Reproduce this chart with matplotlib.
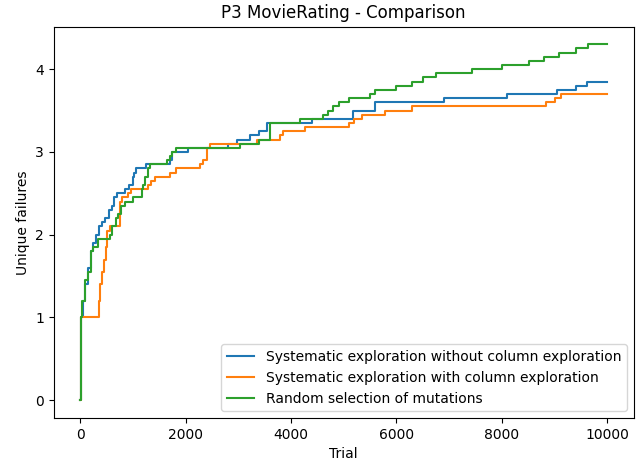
import numpy as np
import matplotlib.pyplot as plt

# step points (trial where value changes, mean unique failures)
sys_trials = [0, 20, 50, 100, 150, 200, 250, 300, 360, 420, 480, 540, 600, 650, 700,
              850, 930, 1000, 1030, 1060, 1250, 1700, 1750, 1800, 2050, 2800, 2970,
              3220, 3400, 3540, 4400, 5170, 5590, 6910, 8090, 9050, 9410, 9620, 10000]
sys_vals = [0, 1.0, 1.2, 1.4, 1.6, 1.8, 1.9, 2.0, 2.1, 2.15, 2.2, 2.3, 2.35, 2.45, 2.5,
            2.55, 2.6, 2.7, 2.75, 2.8, 2.85, 2.9, 3.0, 3.0, 3.05, 3.1, 3.15,
            3.2, 3.25, 3.35, 3.4, 3.5, 3.6, 3.65, 3.7, 3.75, 3.8, 3.85, 3.85]

col_trials = [0, 10, 360, 380, 410, 450, 490, 510, 570, 760, 800, 900, 960, 1290, 1350,
              1420, 1530, 1700, 1820, 2270, 2330, 2400, 2460, 3350, 3790, 3850, 4260,
              5110, 5200, 5340, 5780, 6300, 8840, 9000, 9130, 10000]
col_vals = [0, 1.0, 1.2, 1.4, 1.55, 1.7, 1.85, 2.05, 2.1, 2.4, 2.45, 2.5, 2.55, 2.6, 2.65,
            2.7, 2.7, 2.75, 2.8, 2.85, 2.9, 3.05, 3.1, 3.15, 3.2, 3.25, 3.3,
            3.35, 3.4, 3.45, 3.5, 3.55, 3.6, 3.65, 3.7, 3.7]

rnd_trials = [0, 20, 40, 100, 150, 200, 250, 330, 570, 600, 630, 680, 720, 780, 850, 1000,
              1170, 1200, 1240, 1290, 1330, 1650, 1700, 1740, 1820, 3030, 3400, 3600,
              4170, 4600, 4700, 4800, 4920, 5100, 5490, 5600, 6000, 6300, 6500, 6760,
              7440, 8010, 8520, 8800, 9090, 9410, 9640, 10000]
rnd_vals = [0, 1.0, 1.2, 1.45, 1.55, 1.8, 1.85, 1.95, 2.0, 2.1, 2.1, 2.2, 2.25, 2.35, 2.4, 2.45,
            2.55, 2.6, 2.7, 2.8, 2.85, 2.9, 2.95, 3.0, 3.05, 3.1, 3.15, 3.35,
            3.4, 3.45, 3.5, 3.55, 3.6, 3.65, 3.7, 3.75, 3.8, 3.85, 3.9, 3.95,
            4.0, 4.05, 4.1, 4.15, 4.2, 4.25, 4.3, 4.3]

fig, ax = plt.subplots(figsize=(6.4, 4.66), dpi=100)
ax.step(sys_trials, sys_vals, where="post", label="Systematic exploration without column exploration")
ax.step(col_trials, col_vals, where="post", label="Systematic exploration with column exploration")
ax.step(rnd_trials, rnd_vals, where="post", label="Random selection of mutations")
ax.set_title("P3 MovieRating - Comparison")
ax.set_xlabel("Trial")
ax.set_ylabel("Unique failures")
ax.legend(loc="lower right")
fig.subplots_adjust(left=0.084, right=0.99, top=0.943, bottom=0.103)
fig.savefig("out.png")
